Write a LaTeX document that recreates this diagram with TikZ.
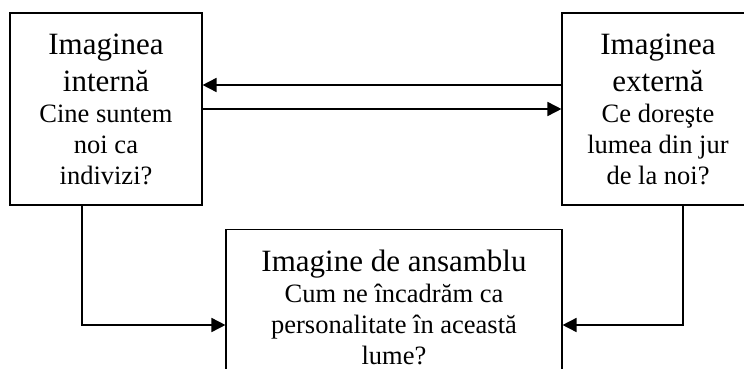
\documentclass[tikz,border=0pt]{standalone}
\usepackage{fontspec}
\setmainfont{Liberation Serif}
\usetikzlibrary{arrows.meta,positioning}
\newcommand{\titlu}{\fontsize{31}{37}\selectfont\spaceskip=0.25em\relax}
\newcommand{\intrebare}{\fontsize{26.5}{31}\selectfont\spaceskip=0.25em\relax}
\tikzstyle{bloc} = [rectangle, draw, line width=1.1pt, text centered,
    align=center, inner xsep=0pt, text width=192pt, minimum height=192pt]

\begin{document}
\begin{tikzpicture}[x=1pt,y=-1pt,line width=1.6pt,
                    >={Triangle[length=14pt,width=14pt]}]
  \useasboundingbox (0,0) rectangle (744,369);

  \node[bloc]   (int) at (106,109) {{\titlu Imaginea\\internă\par}{\intrebare Cine suntem\\noi ca\\indivizi?\par}};
  \node[bloc]   (ext) at (658,109) {{\titlu Imaginea\\externă\par}{\intrebare Ce doreşte\\lumea din jur\\de la noi?\par}};
  \node[bloc,text width=336pt,minimum height=0pt,inner ysep=20pt,anchor=north]
                (ens) at (394,229) {{\titlu Imagine de ansamblu\par}{\intrebare Cum ne încadrăm ca\\personalitate în această\\lume?\par}};

  \draw[->] ([yshift=24pt]ext.west) -- ([yshift=24pt]int.east);
  \draw[->] (int.east) -- (ext.west);
  \draw[->] ([xshift=-24pt]int.south) |- ([yshift=-96pt]ens.north west);
  \draw[->] ([xshift=25pt]ext.south) |- ([yshift=-96pt]ens.north east);
\end{tikzpicture}
\end{document}
